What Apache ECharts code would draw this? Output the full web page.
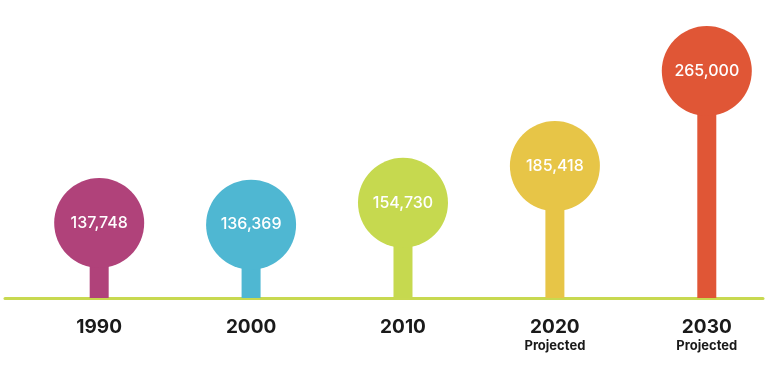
<!DOCTYPE html>
<html>
<head>
<meta charset="utf-8">
<script src="https://cdn.jsdelivr.net/npm/echarts@6/dist/echarts.min.js"></script>
<style>html,body{margin:0;padding:0;background:#fff}#c{width:772px;height:369px}</style>
</head>
<body>
<div id="c"></div>
<script>
const years = [1990, 2000, 2010, 2020, 2030];
const values = [137748, 136369, 154730, 185418, 265000];
const colors = ['#B0427A', '#4FB7D2', '#C6D94F', '#E7C547', '#E05636'];
const projected = [false, false, false, true, true];

const chart = echarts.init(document.getElementById('c'));
const fmt = v => v.toLocaleString('en-US');

chart.setOption({
  animation: false,
  grid: { left: 5, right: 9, top: 20, bottom: 71 },
  xAxis: {
    type: 'value', min: 1983.8, max: 2033.7,
    splitLine: { show: false },
    axisTick: { show: false },
    axisLine: { show: true, onZero: false, lineStyle: { color: '#C8D950', width: 3 } },
    axisLabel: {
      customValues: years,
      margin: 19,
      color: '#1a1a1a',
      fontFamily: 'Inter',
      fontSize: 19, fontWeight: 'bold',
      lineHeight: 21,
      formatter: function (v) {
        const i = years.indexOf(v);
        return projected[i] ? v + '\n{p|Projected}' : String(v);
      },
      rich: { p: { fontFamily: 'Inter', fontSize: 13, fontWeight: 'bold', color: '#1a1a1a', lineHeight: 17 } }
    }
  },
  yAxis: { type: 'value', min: 75000, max: 307700, show: false, splitLine: { show: false } },
  series: [
    {
      type: 'bar', barWidth: 19, z: 1,
      data: years.map((y, i) => ({ value: [y, values[i]], itemStyle: { color: colors[i] } }))
    },
    {
      type: 'scatter', symbol: 'circle', symbolSize: 90, z: 2,
      data: years.map((y, i) => ({ value: [y, values[i]], itemStyle: { color: colors[i], opacity: 1 } })),
      label: {
        show: true, position: 'inside', color: '#fff',
        fontFamily: 'Inter', fontSize: 16, fontWeight: 500,
        formatter: p => fmt(p.value[1])
      }
    }
  ]
});
</script>
</body>
</html>
